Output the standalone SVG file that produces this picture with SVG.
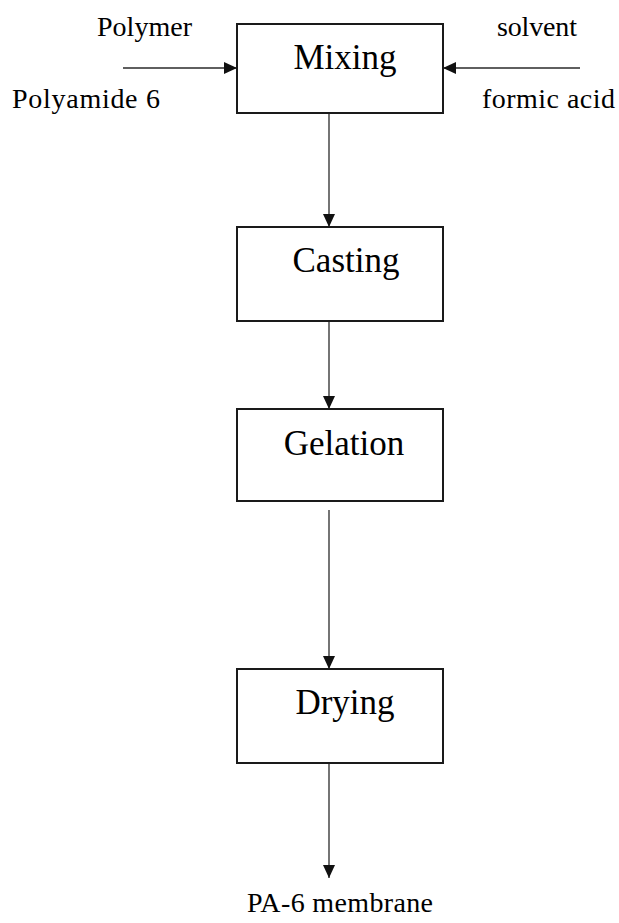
<svg xmlns="http://www.w3.org/2000/svg" width="619" height="923" viewBox="0 0 619 923">
  <style>
    .box { fill: #ffffff; stroke: #1a1a1a; stroke-width: 2; }
    .flow { stroke: #2a2a2a; stroke-width: 1.3; fill: none; marker-end: url(#arrow); }
    .step { font-size: 35px; fill: #000; text-anchor: middle; }
    .label { font-size: 28px; fill: #000; }
  </style>
  <defs>
    <marker id="arrow" markerUnits="userSpaceOnUse" markerWidth="14" markerHeight="12" refX="13" refY="6" orient="auto">
      <path d="M0,0 L13,6 L0,12 z" fill="#111"/>
    </marker>
  </defs>
  <rect width="619" height="923" fill="#ffffff"/>

  <g id="connectors">
    <line class="flow" x1="123" y1="68" x2="237" y2="68"/>
    <line class="flow" x1="580" y1="68" x2="443" y2="68"/>
    <line class="flow" x1="329" y1="113" x2="329" y2="227"/>
    <line class="flow" x1="329" y1="321" x2="329" y2="409"/>
    <line class="flow" x1="329" y1="510" x2="329" y2="669"/>
    <line class="flow" x1="329" y1="763" x2="329" y2="878"/>
  </g>

  <g font-family="Liberation Serif, DejaVu Serif, Times New Roman, serif">
    <g id="mixing">
      <rect class="box" x="237" y="24" width="206" height="89"/>
      <text class="step" x="345" y="69">Mixing</text>
    </g>
    <g id="casting">
      <rect class="box" x="237" y="227" width="206" height="94"/>
      <text class="step" x="346" y="272">Casting</text>
    </g>
    <g id="gelation">
      <rect class="box" x="237" y="409" width="206" height="92"/>
      <text class="step" x="344" y="455">Gelation</text>
    </g>
    <g id="drying">
      <rect class="box" x="237" y="669" width="206" height="94"/>
      <text class="step" x="345" y="714">Drying</text>
    </g>

    <g id="polymer-input">
      <text class="label" x="97" y="36" textLength="95">Polymer</text>
      <text class="label" x="12" y="108" textLength="148">Polyamide  6</text>
    </g>
    <g id="solvent-input">
      <text class="label" x="497" y="36" textLength="80">solvent</text>
      <text class="label" x="482" y="108" textLength="133">formic  acid</text>
    </g>
    <g id="product">
      <text class="label" x="247" y="912" textLength="186">PA-6 membrane</text>
    </g>
  </g>
</svg>
